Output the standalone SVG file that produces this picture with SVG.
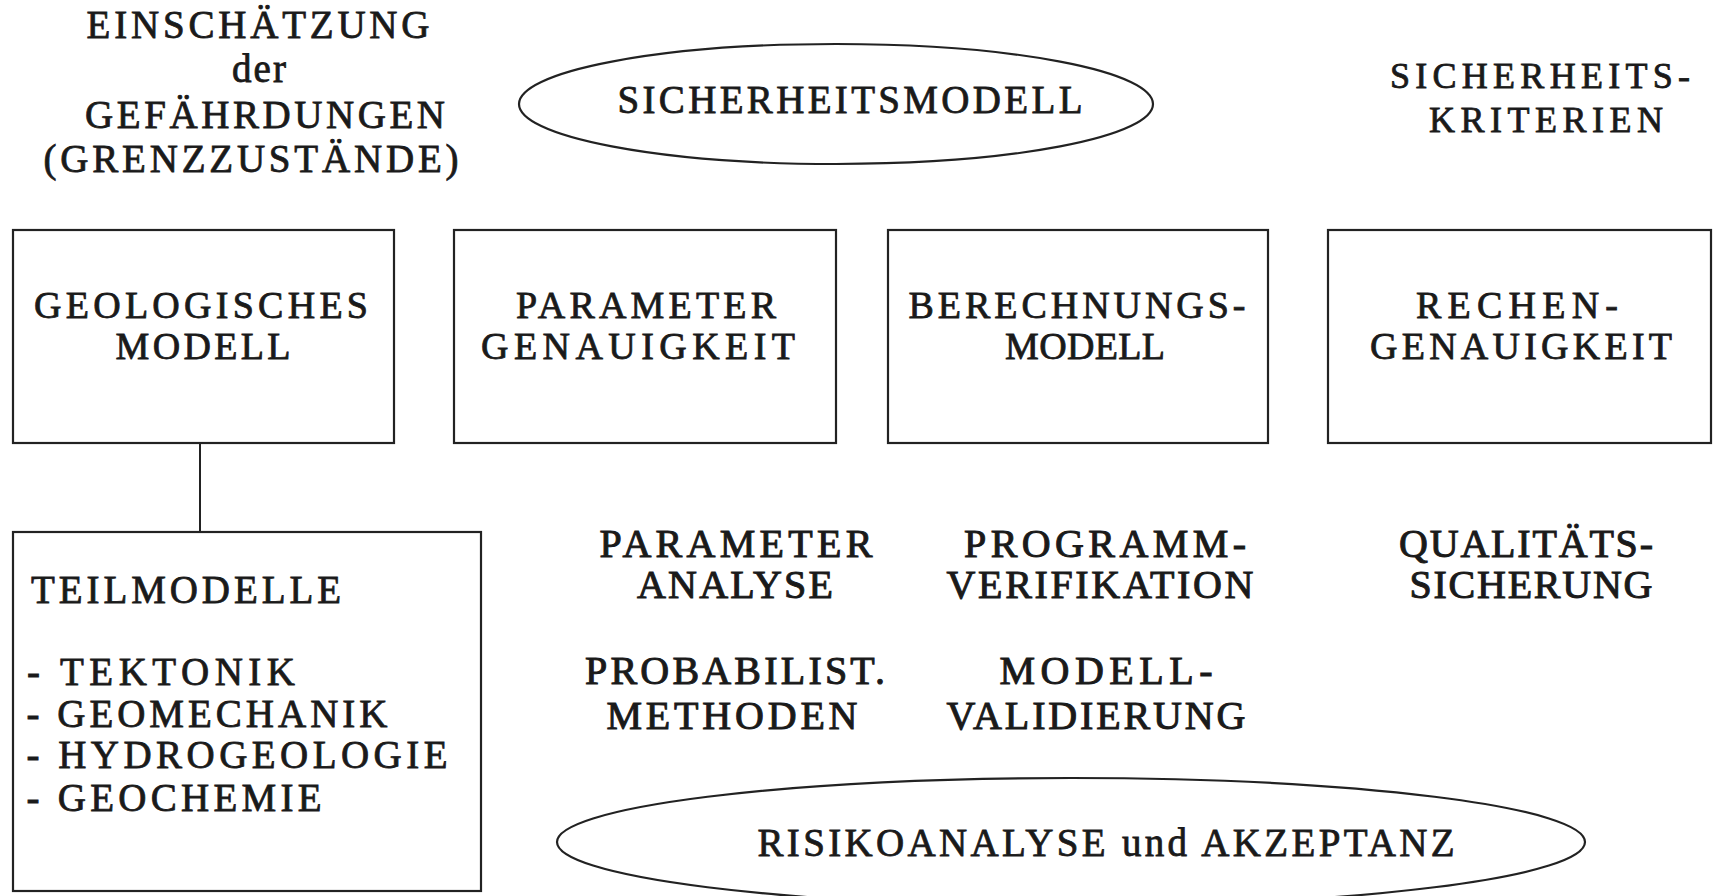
<svg xmlns="http://www.w3.org/2000/svg" width="1714" height="896" viewBox="0 0 1714 896">
<style>
.t{font-family:"Liberation Serif","Times New Roman",serif;font-size:39px;fill:#1a1a1a;stroke:#1a1a1a;stroke-width:0.8;text-anchor:middle}
.s{font-size:38px;stroke-width:0.8}
.k{font-size:36px}
.m{font-size:40px;stroke-width:1}
.b{fill:none;stroke:#222;stroke-width:2.2}
.c{fill:none;stroke:#222;stroke-width:2}
</style>
<rect width="1714" height="896" fill="#fff"/>
<g id="connectors">
<line class="c" x1="200" y1="443" x2="200" y2="532"/>
</g>
<g id="einschaetzung">
<text class="t" x="258" y="38" textLength="343" lengthAdjust="spacing">EINSCHÄTZUNG</text>
<text class="t" x="259" y="82" textLength="54" lengthAdjust="spacing">der</text>
<text class="t" x="265" y="128" textLength="360" lengthAdjust="spacing">GEFÄHRDUNGEN</text>
<text class="t" x="251" y="172" textLength="415" lengthAdjust="spacing">(GRENZZUSTÄNDE)</text>
</g>
<g id="sicherheitsmodell">
<ellipse class="b" cx="836" cy="104" rx="317" ry="60"/>
<text class="t" x="850" y="113" textLength="465" lengthAdjust="spacing">SICHERHEITSMODELL</text>
</g>
<g id="sicherheitskriterien">
<text class="t k" x="1540" y="88" textLength="300" lengthAdjust="spacing">SICHERHEITS-</text>
<text class="t k" x="1546" y="132" textLength="234" lengthAdjust="spacing">KRITERIEN</text>
</g>
<g id="geologisches-modell">
<rect class="b" x="13" y="230" width="381" height="213"/>
<text class="t s" x="201" y="318" textLength="334" lengthAdjust="spacing">GEOLOGISCHES</text>
<text class="t s" x="203" y="359" textLength="175" lengthAdjust="spacing">MODELL</text>
</g>
<g id="parameter-genauigkeit">
<rect class="b" x="454" y="230" width="382" height="213"/>
<text class="t s" x="646" y="318" textLength="260" lengthAdjust="spacing">PARAMETER</text>
<text class="t s" x="638" y="359" textLength="314" lengthAdjust="spacing">GENAUIGKEIT</text>
</g>
<g id="berechnungsmodell">
<rect class="b" x="888" y="230" width="380" height="213"/>
<text class="t s" x="1077" y="318" textLength="337" lengthAdjust="spacing">BERECHNUNGS-</text>
<text class="t s" x="1085" y="359" textLength="160" lengthAdjust="spacing">MODELL</text>
</g>
<g id="rechengenauigkeit">
<rect class="b" x="1328" y="230" width="383" height="213"/>
<text class="t s" x="1517" y="318" textLength="202" lengthAdjust="spacing">RECHEN-</text>
<text class="t s" x="1521" y="359" textLength="302" lengthAdjust="spacing">GENAUIGKEIT</text>
</g>
<g id="teilmodelle">
<rect class="b" x="13" y="532" width="468" height="359"/>
<text class="t" x="186" y="603" textLength="310" lengthAdjust="spacing">TEILMODELLE</text>
<text class="t" x="161" y="685" textLength="268" lengthAdjust="spacing">- TEKTONIK</text>
<text class="t" x="207" y="727" textLength="361" lengthAdjust="spacing">- GEOMECHANIK</text>
<text class="t" x="237" y="768" textLength="421" lengthAdjust="spacing">- HYDROGEOLOGIE</text>
<text class="t" x="174" y="811" textLength="295" lengthAdjust="spacing">- GEOCHEMIE</text>
</g>
<g id="parameter-analyse">
<text class="t m" x="736" y="557" textLength="273" lengthAdjust="spacing">PARAMETER</text>
<text class="t m" x="735" y="598" textLength="196" lengthAdjust="spacing">ANALYSE</text>
</g>
<g id="programm-verifikation">
<text class="t m" x="1105" y="557" textLength="282" lengthAdjust="spacing">PROGRAMM-</text>
<text class="t m" x="1100" y="598" textLength="307" lengthAdjust="spacing">VERIFIKATION</text>
</g>
<g id="qualitaetssicherung">
<text class="t m" x="1526" y="557" textLength="254" lengthAdjust="spacing">QUALITÄTS-</text>
<text class="t m" x="1531" y="598" textLength="243" lengthAdjust="spacing">SICHERUNG</text>
</g>
<g id="probabilist-methoden">
<text class="t m" x="735" y="684" textLength="300" lengthAdjust="spacing">PROBABILIST.</text>
<text class="t m" x="732" y="729" textLength="251" lengthAdjust="spacing">METHODEN</text>
</g>
<g id="modell-validierung">
<text class="t m" x="1106" y="684" textLength="213" lengthAdjust="spacing">MODELL-</text>
<text class="t m" x="1096" y="729" textLength="299" lengthAdjust="spacing">VALIDIERUNG</text>
</g>
<g id="risikoanalyse">
<ellipse class="b" cx="1071" cy="842" rx="514" ry="64"/>
<text class="t" x="1106" y="856" textLength="697" lengthAdjust="spacing">RISIKOANALYSE und AKZEPTANZ</text>
</g>
</svg>
